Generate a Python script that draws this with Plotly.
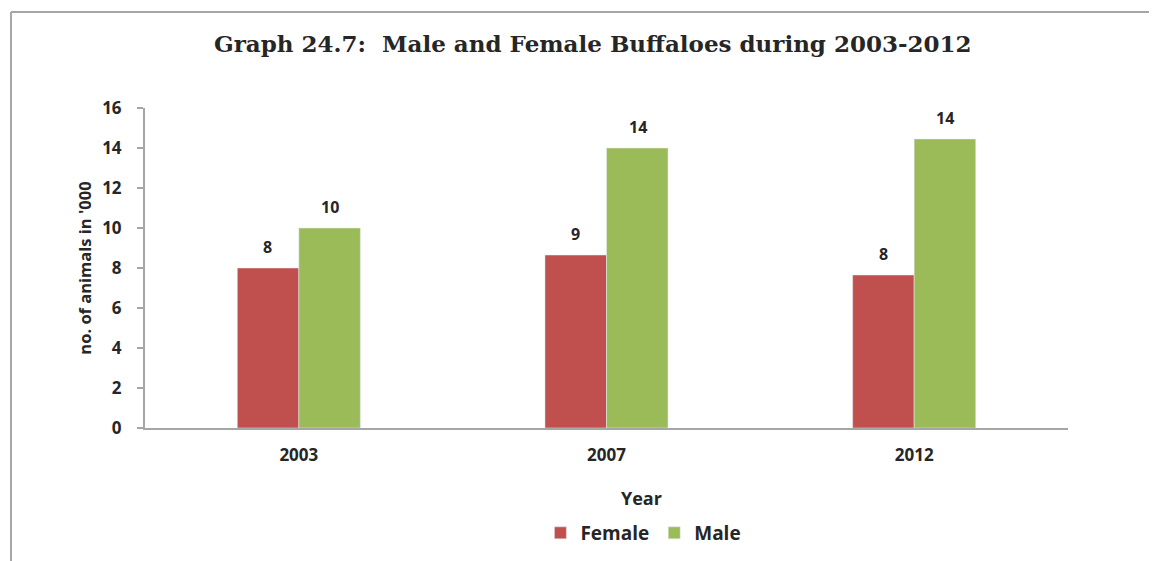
import plotly.graph_objects as go

years = ["2003", "2007", "2012"]
female = [8.0, 8.65, 7.65]
male = [10.0, 14.0, 14.45]
female_labels = ["8", "9", "8"]
male_labels = ["10", "14", "14"]
y_ticks = [0, 2, 4, 6, 8, 10, 12, 14, 16]

RED = "#C0504D"
GREEN = "#9BBB59"
FONT = "Open Sans"
TXT = "#262626"
AXC = "#A6A6A6"

fig = go.Figure()
fig.add_trace(go.Bar(name="Female", x=years, y=female, marker=dict(color=RED)))
fig.add_trace(go.Bar(name="Male", x=years, y=male, marker=dict(color=GREEN)))

annotations = []
for i, (v, t) in enumerate(zip(female, female_labels)):
    annotations.append(dict(x=i, y=v, xref="x", yref="y", text=t, showarrow=False,
                            xshift=-31, yshift=21, font=dict(family=FONT, size=16, color=TXT, weight="bold")))
for i, (v, t) in enumerate(zip(male, male_labels)):
    annotations.append(dict(x=i, y=v, xref="x", yref="y", text=t, showarrow=False,
                            xshift=31, yshift=21, font=dict(family=FONT, size=16, color=TXT, weight="bold")))
annotations.append(dict(x=0.538, y=-0.219, xref="paper", yref="paper", text="Year", showarrow=False,
                        xanchor="center", yanchor="middle",
                        font=dict(family=FONT, size=18, color=TXT, weight="bold")))

fig.update_layout(
    width=1149, height=553,
    margin=dict(l=137, r=89, t=100, b=133, autoexpand=False),
    paper_bgcolor="white", plot_bgcolor="white",
    barmode="group", bargap=0.6, bargroupgap=0,
    title=dict(text="Graph 24.7:  Male and Female Buffaloes during 2003-2012",
               x=0.509, xanchor="center", y=0.935, yanchor="middle",
               font=dict(family="DejaVu Serif", size=23, color=TXT, weight="bold")),
    showlegend=True,
    legend=dict(orientation="h", x=0.54, xanchor="center", y=-0.328, yanchor="middle",
                font=dict(family=FONT, size=19, color=TXT, weight="bold"), traceorder="normal"),
    annotations=annotations,
    shapes=[
        dict(type="line", xref="paper", yref="paper", x0=-0.1452, x1=1.2, y0=1.3, y1=1.3,
             line=dict(color=AXC, width=2)),
        dict(type="line", xref="paper", yref="paper", x0=-0.1452, x1=-0.1452, y0=1.3, y1=-0.5,
             line=dict(color=AXC, width=2)),
    ],
)
fig.update_xaxes(type="category", categoryorder="array", categoryarray=years, range=[-0.5, 2.5],
                 showline=True, linecolor=AXC, linewidth=2, ticks="", showgrid=False,
                 tickfont=dict(family=FONT, size=17, color=TXT, weight="bold"), ticklabelstandoff=11)
fig.update_yaxes(range=[0, 16], tickvals=y_ticks, showline=True, linecolor=AXC, linewidth=2,
                 ticks="outside", ticklen=6, tickcolor=AXC, tickwidth=2, showgrid=False, zeroline=False,
                 tickfont=dict(family=FONT, size=17, color=TXT, weight="bold"), ticklabelstandoff=12,
                 title=dict(text="no. of animals in '000", standoff=6,
                            font=dict(family=FONT, size=16.5, color=TXT, weight="bold")))

fig.write_html("out.html")
